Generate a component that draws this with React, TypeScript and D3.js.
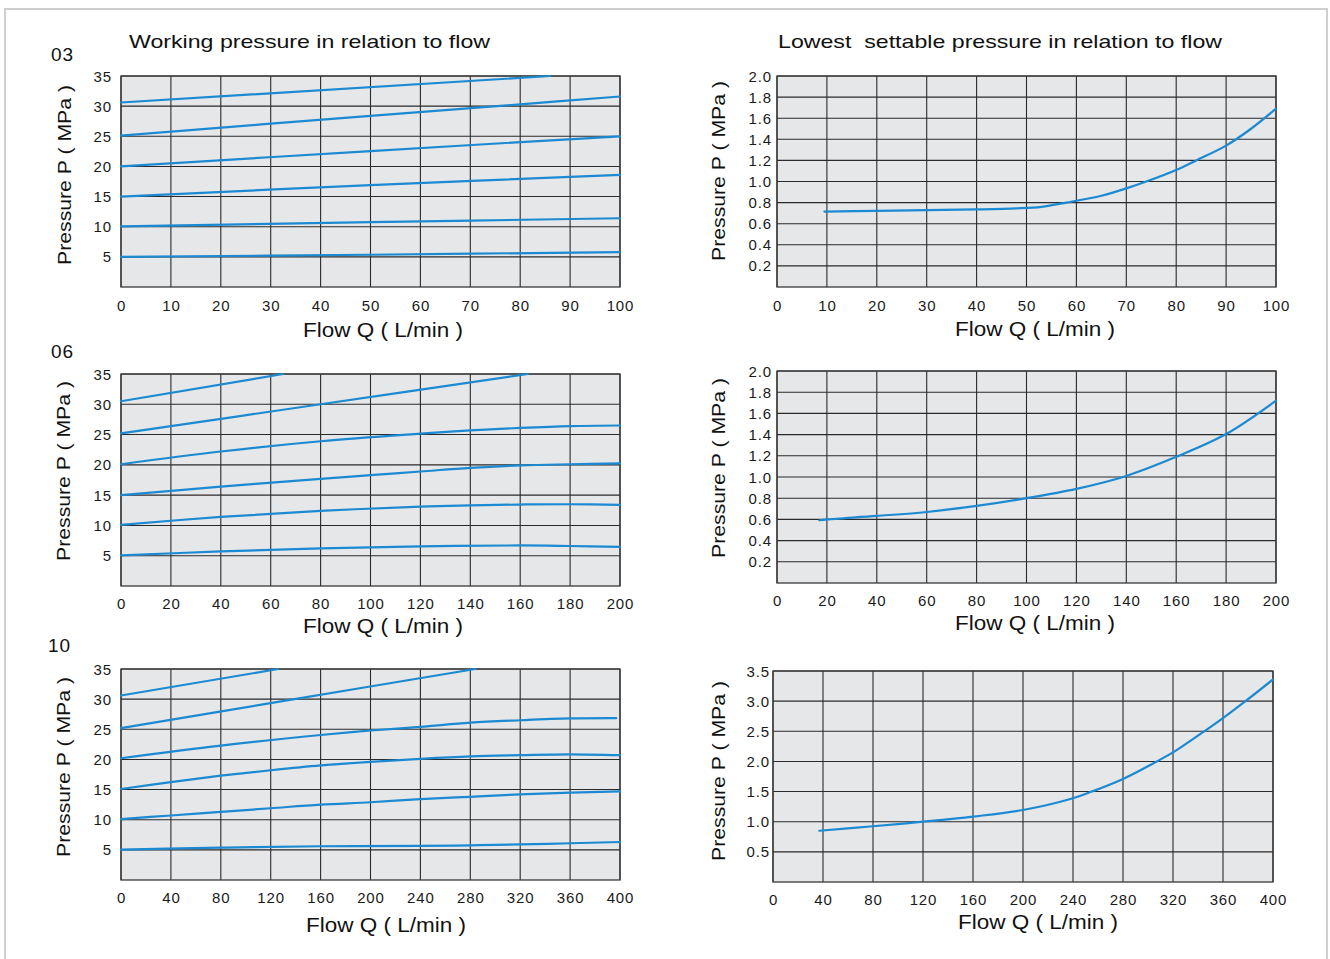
import React from "react";
import * as d3 from "d3";

// ---------- data ----------
// 03 working pressure curves [Q (L/min), P (MPa)]
const w03_a = [[0, 30.6], [86, 35]];
const w03_b = [[0, 25.1], [50, 28.4], [80, 30.3], [100, 31.6]];
const w03_c = [[0, 20], [50, 22.55], [100, 25]];
const w03_d = [[0, 15], [50, 16.9], [100, 18.6]];
const w03_e = [[0, 10.05], [50, 10.75], [100, 11.4]];
const w03_f = [[0, 5.0], [50, 5.35], [100, 5.8]];

// 03 lowest settable pressure
const low03 = [[9.5, 0.715], [20, 0.722], [30, 0.728], [40, 0.735], [48, 0.745], [53, 0.76], [58, 0.8], [65, 0.865], [70, 0.935], [74, 1.0], [80, 1.11], [84, 1.2], [90, 1.34], [95, 1.5], [100, 1.69]];

// 06 working pressure curves
const w06_a = [[0, 30.5], [65, 35]];
const w06_b = [[0, 25.2], [80, 30.0], [163, 35]];
const w06_c = [[0, 20.1], [40, 22.2], [80, 23.9], [120, 25.15], [140, 25.7], [160, 26.1], [180, 26.4], [200, 26.5]];
const w06_d = [[0, 15], [40, 16.4], [80, 17.7], [100, 18.3], [120, 18.9], [140, 19.5], [160, 19.9], [180, 20.1], [200, 20.25]];
const w06_e = [[0, 10.1], [40, 11.4], [80, 12.4], [120, 13.1], [140, 13.3], [160, 13.45], [180, 13.5], [200, 13.4]];
const w06_f = [[0, 5.05], [40, 5.7], [80, 6.2], [120, 6.55], [160, 6.7], [180, 6.6], [200, 6.45]];

// 06 lowest settable pressure
const low06 = [[17, 0.592], [20, 0.6], [40, 0.633], [60, 0.67], [80, 0.727], [100, 0.8], [120, 0.888], [140, 1.01], [160, 1.19], [180, 1.405], [200, 1.72]];

// 10 working pressure curves
const w10_a = [[0, 30.6], [126, 35]];
const w10_b = [[0, 25.2], [139, 30], [284, 35]];
const w10_c = [[0, 20.2], [80, 22.3], [160, 24.05], [200, 24.8], [240, 25.4], [280, 26.1], [320, 26.5], [360, 26.8], [397, 26.85]];
const w10_d = [[0, 15.1], [40, 16.25], [80, 17.3], [120, 18.2], [160, 19.0], [200, 19.6], [240, 20.1], [280, 20.5], [320, 20.7], [360, 20.85], [400, 20.7]];
const w10_e = [[0, 10.1], [40, 10.7], [80, 11.3], [120, 11.9], [160, 12.5], [200, 12.9], [240, 13.4], [280, 13.8], [320, 14.2], [360, 14.5], [400, 14.7]];
const w10_f = [[0, 5.03], [80, 5.36], [160, 5.6], [240, 5.65], [280, 5.75], [320, 5.9], [360, 6.1], [400, 6.3]];

// 10 lowest settable pressure
const low10 = [[37, 0.85], [80, 0.925], [120, 1.0], [160, 1.085], [200, 1.195], [240, 1.39], [255, 1.5], [280, 1.71], [307, 2.0], [320, 2.15], [345, 2.5], [360, 2.72], [378, 3.0], [400, 3.36]];

// ticks
const xTicks100 = [0, 10, 20, 30, 40, 50, 60, 70, 80, 90, 100];
const xTicks200 = [0, 20, 40, 60, 80, 100, 120, 140, 160, 180, 200];
const xTicks400 = [0, 40, 80, 120, 160, 200, 240, 280, 320, 360, 400];
const yTicksWork = [5, 10, 15, 20, 25, 30, 35];
const yTicksLow2 = [0.2, 0.4, 0.6, 0.8, 1.0, 1.2, 1.4, 1.6, 1.8, 2.0];
const yTicksLow35 = [0.5, 1.0, 1.5, 2.0, 2.5, 3.0, 3.5];

const sizeLabels = ["03", "06", "10"];
const titleWorking = "Working pressure in relation to flow";
const titleLowest = "Lowest  settable pressure in relation to flow";
const yAxisLabel = "Pressure P ( MPa )";
const xAxisLabel = "Flow Q ( L/min )";

// ---------- layout ----------
const panels = [
  { l: 121, r: 620, t: 76, b: 287, xMax: 100, yMax: 35, xt: xTicks100, yt: yTicksWork, fmt: "d", series: [w03_a, w03_b, w03_c, w03_d, w03_e, w03_f], ylx: 71, yly: 175, xlx: 383, xly: 337, ytGap: 9, xtDy: 24 },
  { l: 777, r: 1276, t: 76, b: 287, xMax: 100, yMax: 2, xt: xTicks100, yt: yTicksLow2, fmt: ".1f", series: [low03], ylx: 725, yly: 171, xlx: 1035, xly: 336, ytGap: 5, xtDy: 24 },
  { l: 121, r: 620, t: 374, b: 586, xMax: 200, yMax: 35, xt: xTicks200, yt: yTicksWork, fmt: "d", series: [w06_a, w06_b, w06_c, w06_d, w06_e, w06_f], ylx: 70, yly: 471, xlx: 383, xly: 633, ytGap: 9, xtDy: 23 },
  { l: 777, r: 1276, t: 371, b: 583, xMax: 200, yMax: 2, xt: xTicks200, yt: yTicksLow2, fmt: ".1f", series: [low06], ylx: 725, yly: 468, xlx: 1035, xly: 630, ytGap: 5, xtDy: 23 },
  { l: 121, r: 620, t: 669, b: 880, xMax: 400, yMax: 35, xt: xTicks400, yt: yTicksWork, fmt: "d", series: [w10_a, w10_b, w10_c, w10_d, w10_e, w10_f], ylx: 70, yly: 767, xlx: 386, xly: 932, ytGap: 9, xtDy: 23 },
  { l: 773, r: 1273, t: 671, b: 882, xMax: 400, yMax: 3.5, xt: xTicks400, yt: yTicksLow35, fmt: ".1f", series: [low10], ylx: 725, yly: 771, xlx: 1038, xly: 929, ytGap: 3, xtDy: 23 },
];

const FONT = "'Liberation Sans', Arial, Helvetica, sans-serif";
const CURVE = "#1b8ad2";
const GRID = "#2a2a2a";

function Panel({ p }: { p: any }) {
  const x = d3.scaleLinear().domain([0, p.xMax]).range([p.l, p.r]);
  const y = d3.scaleLinear().domain([0, p.yMax]).range([p.b, p.t]);
  const line = d3
    .line<number[]>()
    .x((d) => x(d[0]))
    .y((d) => y(d[1]))
    .curve(d3.curveCatmullRom.alpha(0.5));
  const f = d3.format(p.fmt);
  return (
    <g>
      <rect x={p.l} y={p.t} width={p.r - p.l} height={p.b - p.t} fill="#e6e7e9" />
      {p.xt.map((v: number) => (
        <line key={"gx" + v} x1={x(v)} x2={x(v)} y1={p.t} y2={p.b} stroke={GRID} strokeWidth={1.1} />
      ))}
      {p.yt.map((v: number) => (
        <line key={"gy" + v} x1={p.l} x2={p.r} y1={y(v)} y2={y(v)} stroke={GRID} strokeWidth={1.1} />
      ))}
      <rect x={p.l} y={p.t} width={p.r - p.l} height={p.b - p.t} fill="none" stroke="#3a3a3a" strokeWidth={1.3} />
      {p.series.map((s: number[][], i: number) => (
        <path key={"s" + i} d={line(s) || ""} fill="none" stroke={CURVE} strokeWidth={2.2} strokeLinecap="round" />
      ))}
      {p.yt.map((v: number) => (
        <text key={"ty" + v} x={p.l - p.ytGap} y={y(v) + 5.5} textAnchor="end" fontSize={15} letterSpacing={0.9} fill="#1a1a1a" fontFamily={FONT}>
          {f(v)}
        </text>
      ))}
      {p.xt.map((v: number) => (
        <text key={"tx" + v} x={x(v) + 0.5} y={p.b + p.xtDy} textAnchor="middle" fontSize={15} letterSpacing={0.9} fill="#1a1a1a" fontFamily={FONT}>
          {v}
        </text>
      ))}
      <text
        transform={`translate(${p.ylx},${p.yly}) rotate(-90)`}
        textAnchor="middle"
        fontSize={19}
        textLength={180}
        lengthAdjust="spacingAndGlyphs"
        fill="#111"
        fontFamily={FONT}
      >
        {yAxisLabel}
      </text>
      <text x={p.xlx} y={p.xly} textAnchor="middle" fontSize={20} textLength={160} lengthAdjust="spacingAndGlyphs" fill="#111" fontFamily={FONT}>
        {xAxisLabel}
      </text>
    </g>
  );
}

export default function App() {
  const sizePos = [
    { x: 51, y: 61 },
    { x: 51, y: 358 },
    { x: 48, y: 652 },
  ];
  return (
    <svg
      width={1330}
      height={959}
      viewBox="0 0 1330 959"
      style={{ position: "absolute", left: 0, top: 0, background: "#fff" }}
    >
      <rect x={0} y={0} width={1330} height={959} fill="#fff" />
      <rect x={5} y={9} width={1322} height={970} fill="none" stroke="#cfcfcf" strokeWidth={2} />
      <text x={129} y={48} fontSize={19} textLength={361} lengthAdjust="spacingAndGlyphs" fill="#111" fontFamily={FONT}>
        {titleWorking}
      </text>
      <text x={778} y={48} fontSize={19} textLength={444} lengthAdjust="spacingAndGlyphs" fill="#111" fontFamily={FONT} style={{ whiteSpace: "pre" }}>
        {titleLowest}
      </text>
      {sizeLabels.map((s, i) => (
        <text key={s} x={sizePos[i].x} y={sizePos[i].y} fontSize={19} letterSpacing={1} fill="#111" fontFamily={FONT}>
          {s}
        </text>
      ))}
      {panels.map((p, i) => (
        <Panel key={i} p={p} />
      ))}
    </svg>
  );
}
